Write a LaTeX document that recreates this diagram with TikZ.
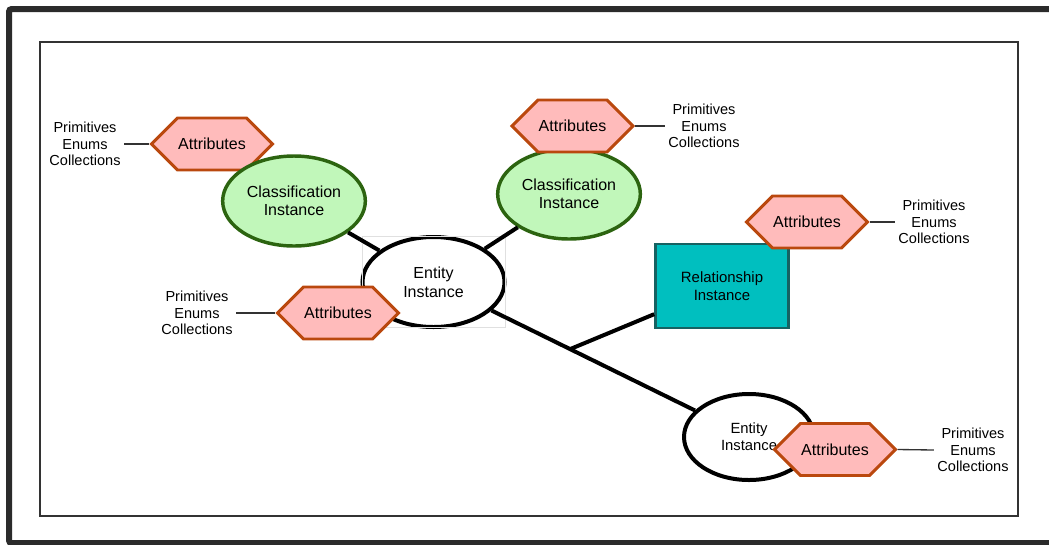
\documentclass[tikz,border=0pt]{standalone}
\usepackage{fontspec}
\setmainfont{Liberation Sans}
\usetikzlibrary{shapes.geometric,shapes.symbols,calc}
\definecolor{attrfill}{RGB}{255,187,187}
\definecolor{attrline}{RGB}{186,72,14}
\definecolor{clsfill}{RGB}{193,247,186}
\definecolor{clsline}{RGB}{44,100,16}
\definecolor{relfill}{RGB}{0,191,191}
\definecolor{relline}{RGB}{22,98,98}
\definecolor{framecol}{RGB}{43,43,43}
\begin{document}
\begin{tikzpicture}[x=0.75pt,y=-0.75pt,
  attr/.style={signal, signal to=east and west, signal pointer angle=90,
    draw=attrline, fill=attrfill, line width=2.2pt,
    minimum width=90.75pt, minimum height=39pt, inner sep=0pt,
    font=\fontsize{12}{14}\selectfont},
  cls/.style={ellipse, draw=clsline, fill=clsfill, line width=2.6pt,
    minimum width=107pt, minimum height=67.5pt, inner sep=0pt, align=center,
    font=\fontsize{12}{13.7}\selectfont},
  ent/.style={ellipse, draw=black, fill=white, line width=3pt,
    inner sep=0pt, align=center},
  rel/.style={rectangle, draw=relline, fill=relfill, line width=2.2pt,
    minimum width=99.5pt, minimum height=63pt, inner sep=0pt, align=center,
    font=\fontsize{11.2}{13.2}\selectfont},
  prim/.style={align=center, inner sep=2.5pt,
    font=\fontsize{10.9}{12.4}\selectfont},
  link/.style={draw=black, line width=3pt},
  tie/.style={draw=black!80, line width=1pt}]

\useasboundingbox (0,0) rectangle (1049,544);
\clip (0,0) rectangle (1049,544);

% frames
\draw[framecol, line width=4.5pt, rounded corners=2pt] (9,9) rectangle (1080,543);
\draw[black!80, line width=1.5pt] (40,41.5) rectangle (1018,516);

% upper left classification
\node[attr] (h1) at (212,144) {Attributes};
\node[cls] (c1) at (294,201) {Classification\\Instance};
\node[prim] (t1) at (85,144) {Primitives\\Enums\\Collections};

% upper right classification
\node[cls] (c2) at (569,194) {Classification\\Instance};
\node[attr] (h2) at (572.5,126) {Attributes};
\node[prim] (t2) at (704,126) {Primitives\\Enums\\Collections};

% central entity
\node[ent, minimum width=106.5pt, minimum height=67.5pt,
  font=\fontsize{12}{14.2}\selectfont] (e1) at (433.5,282) {Entity\\Instance};
\draw[black!12, line width=0.6pt] (362,236) rectangle (505.5,327);
\node[attr] (h4) at (338,313) {Attributes};
\node[prim] (t4) at (197,313) {Primitives\\Enums\\Collections};

% relationship
\node[rel] (r) at (722,286) {Relationship\\Instance};
\node[attr] (h3) at (807,222) {Attributes};
\node[prim] (t3) at (934,222) {Primitives\\Enums\\Collections};

% second entity
\node[ent, minimum width=97.5pt, minimum height=64.5pt,
  font=\fontsize{11.1}{12.6}\selectfont] (e2) at (749,437) {Entity\\Instance};
\node[attr] (h5) at (835,449.5) {Attributes};
\node[prim] (t5) at (973,450) {Primitives\\Enums\\Collections};

% connectors
\draw[link] (c1) -- (e1);
\draw[link] (c2) -- (e1);
\draw[link] (e1) -- (e2);
\coordinate (bp) at ($(e1)!0.433!(e2)$);
\draw[link] (bp) -- (r);

\draw[tie] (t1.east) -- (h1.west);
\draw[tie] (h2.east) -- (t2.west);
\draw[tie] (t4.east) -- (h4.west);
\draw[tie] (h3.east) -- (t3.west);
\draw[tie] (h5.east) -- (t5.west);
\end{tikzpicture}
\end{document}
